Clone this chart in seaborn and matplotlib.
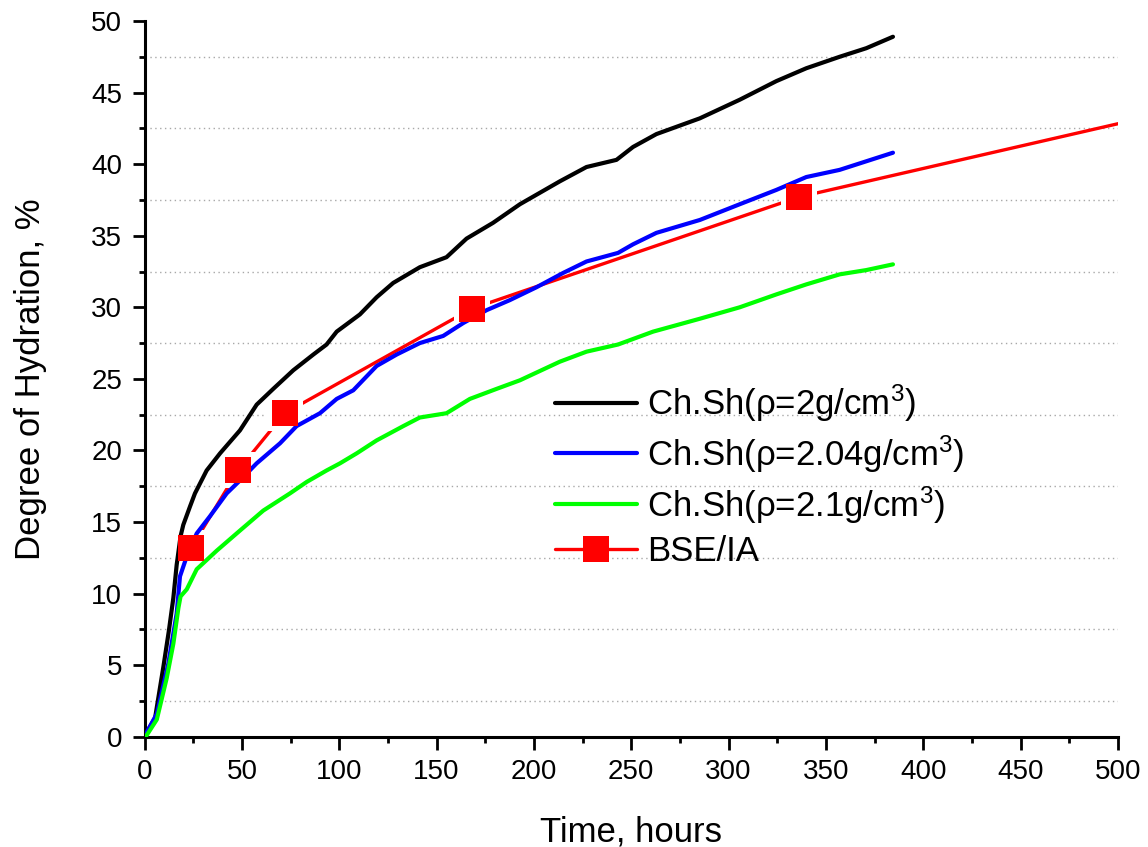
import matplotlib
matplotlib.use("Agg")
import matplotlib.pyplot as plt
from matplotlib.lines import Line2D
from matplotlib.ticker import MultipleLocator
import seaborn as sns
import numpy as np

# ---------------- data ----------------
t_black = [0, 2.8, 5.4, 9.7, 12.5, 14.8, 16.5, 18.5, 19.9, 23.4, 25.9, 31.9, 38.8, 49, 57.6,
           66.1, 76.4, 86.7, 93.5, 98.7, 110.6, 119.2, 127.7, 141.4, 155.1, 165.4, 179, 192.8,
           213.3, 227, 242.4, 250.9, 262.9, 285.2, 305.7, 324.5, 339.9, 357, 370.7, 384.4]
v_black = [0, 0.7, 1.3, 4.9, 7.4, 9.7, 12.0, 14.0, 14.8, 16.1, 17.0, 18.6, 19.8, 21.4, 23.2,
           24.3, 25.6, 26.7, 27.4, 28.3, 29.5, 30.7, 31.7, 32.8, 33.5, 34.8, 35.9, 37.2,
           38.8, 39.8, 40.3, 41.2, 42.1, 43.2, 44.5, 45.8, 46.7, 47.5, 48.1, 48.9]

t_blue = [0, 1.1, 6.3, 12.2, 16.5, 18.2, 21.7, 26.8, 33.6, 42.2, 49, 57.6, 69.6, 78.1, 90.1,
          98.7, 107.2, 119.2, 129.5, 141.4, 153.4, 163.7, 175.7, 187.6, 201.3, 215, 227, 243.2,
          250.9, 262.9, 285.2, 305.7, 324.5, 339.9, 357, 370.7, 384.4]
v_blue = [0, 0.3, 1.6, 5.1, 8.6, 11.2, 12.6, 14.2, 15.4, 17.0, 17.9, 19.1, 20.5, 21.7, 22.6,
          23.6, 24.2, 25.9, 26.7, 27.5, 28.0, 28.9, 29.8, 30.5, 31.4, 32.4, 33.2, 33.8,
          34.4, 35.2, 36.1, 37.2, 38.2, 39.1, 39.6, 40.2, 40.8]

t_green = [0, 1.1, 6.3, 11.4, 14.8, 17.4, 18.5, 21.7, 26.8, 37.1, 49, 61, 74.7, 83.3, 93.5,
           100.4, 109, 119.2, 132.9, 141.4, 155.1, 167.1, 180.8, 192.8, 213.3, 227, 243.2,
           261.2, 285.2, 305.7, 324.5, 339.9, 357, 370.7, 384.4]
v_green = [0, 0.1, 1.2, 4.1, 6.5, 9.0, 9.8, 10.3, 11.7, 13.0, 14.4, 15.8, 17.0, 17.8, 18.6,
           19.1, 19.8, 20.7, 21.7, 22.3, 22.6, 23.6, 24.3, 24.9, 26.2, 26.9, 27.4,
           28.3, 29.2, 30.0, 30.9, 31.6, 32.3, 32.6, 33.0]

t_bse = [24, 48, 72, 168, 336, 672]
v_bse = [13.2, 18.6, 22.6, 29.9, 37.7, 48.2]

labels = ["Ch.Sh(\u03c1=2g/cm$^{3}$)", "Ch.Sh(\u03c1=2.04g/cm$^{3}$)",
          "Ch.Sh(\u03c1=2.1g/cm$^{3}$)", "BSE/IA"]
colors = ["#000000", "#0000ff", "#00ff00", "#ff0000"]

x_label = "Time, hours"
y_label = "Degree of Hydration, %"

# ---------------- style ----------------
sns.set_style("ticks")
plt.rcParams["font.family"] = ["Liberation Sans", "DejaVu Sans"]
plt.rcParams["mathtext.fontset"] = "custom"
plt.rcParams["mathtext.rm"] = "Liberation Sans"
plt.rcParams["mathtext.it"] = "Liberation Sans"
for k in ["text.color", "axes.labelcolor", "xtick.color", "ytick.color",
          "xtick.labelcolor", "ytick.labelcolor"]:
    plt.rcParams[k] = "black"

fig = plt.figure(figsize=(11.48, 8.47), dpi=100)
ax = fig.add_axes([0.1259, 0.1302, 0.8480, 0.8450])

lw = 3.0
sns.lineplot(x=t_bse, y=v_bse, color=colors[3], lw=2.4, sort=False, estimator=None,
             ax=ax, zorder=2)
# white halo to create gaps in the connecting line around the markers
sns.scatterplot(x=t_bse, y=v_bse, marker="s", s=26.5 ** 2, color="white",
                linewidth=0, ax=ax, zorder=2.5)
for t, v, c in [(t_black, v_black, colors[0]), (t_blue, v_blue, colors[1]),
                (t_green, v_green, colors[2])]:
    sns.lineplot(x=t, y=v, color=c, lw=lw, sort=False, estimator=None, ax=ax, zorder=3)
sns.scatterplot(x=t_bse, y=v_bse, marker="s", s=18.5 ** 2, color=colors[3],
                linewidth=0, ax=ax, zorder=4)

ax.set_xlim(0, 500)
ax.set_ylim(0, 50)
ax.xaxis.set_major_locator(MultipleLocator(50))
ax.xaxis.set_minor_locator(MultipleLocator(25))
ax.yaxis.set_major_locator(MultipleLocator(5))
ax.yaxis.set_minor_locator(MultipleLocator(2.5))

ax.grid(False)
ax.yaxis.grid(True, which="minor", linestyle=(0, (1, 2.5)), color="#a8a8a8", lw=1.0)
ax.set_axisbelow(True)

for s in ["top", "right"]:
    ax.spines[s].set_visible(False)
for s in ["left", "bottom"]:
    ax.spines[s].set_linewidth(2.2)
    ax.spines[s].set_color("black")

ax.tick_params(which="major", direction="out", length=9, width=2.0, labelsize=20,
               pad=7, colors="black")
ax.tick_params(which="minor", direction="out", length=4.5, width=2.0)

ax.set_xlabel(x_label, fontsize=25, labelpad=22)
ax.set_ylabel(y_label, fontsize=25, labelpad=32)

handles = [Line2D([], [], color=colors[0], lw=lw),
           Line2D([], [], color=colors[1], lw=lw),
           Line2D([], [], color=colors[2], lw=lw),
           Line2D([], [], color=colors[3], lw=2.4, marker="s", markersize=18.5,
                  markeredgewidth=0)]
ax.legend(handles, labels, loc="upper left", bbox_to_anchor=(0.4217, 0.495),
          frameon=False, fontsize=25, handlelength=2.36, handletextpad=0.3,
          labelspacing=0.27, borderpad=0, borderaxespad=0)

fig.savefig("out.png", dpi=100)
